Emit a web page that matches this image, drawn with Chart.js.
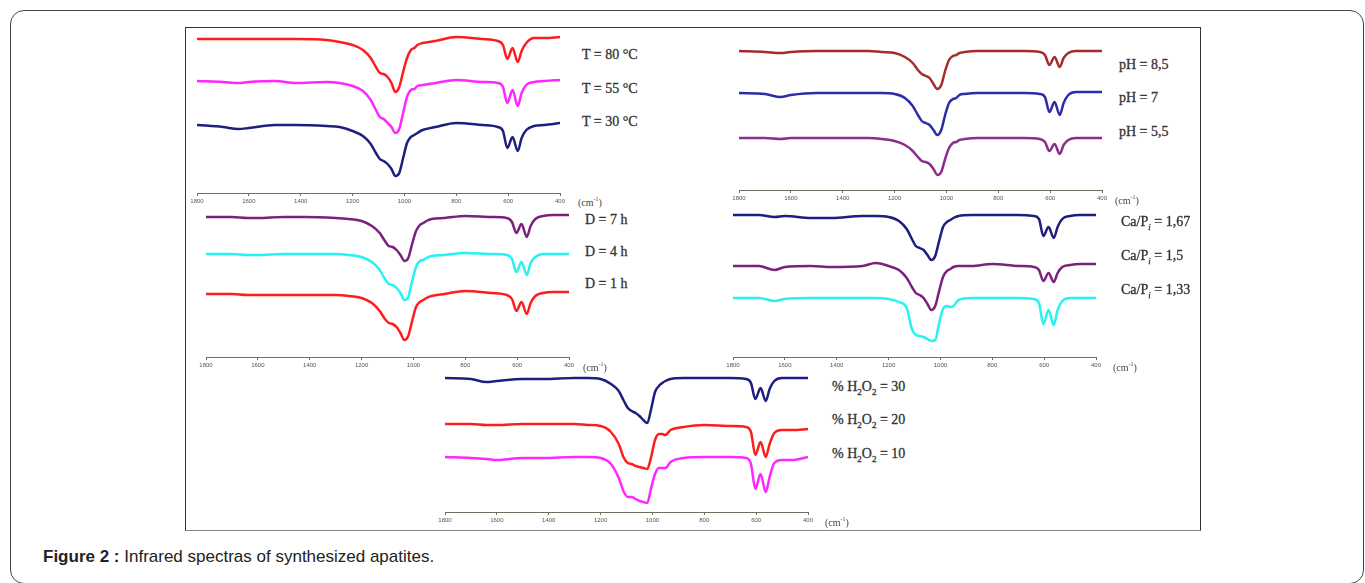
<!DOCTYPE html>
<html>
<head>
<meta charset="utf-8">
<script src="https://cdn.jsdelivr.net/npm/chart.js@4.4.0/dist/chart.umd.min.js"></script>
<style>
    body { margin: 0; width: 1365px; height: 583px; background: #fff; position: relative; overflow: hidden; font-family: 'Liberation Sans', Arial, sans-serif; }
    .frame { position: absolute; left: 10px; top: 10px; width: 1352px; height: 572px; border: 1.5px solid #444; border-radius: 14px; }
    .figbox { position: absolute; left: 185px; top: 27px; width: 1014px; height: 502px; border: 1px solid #333; border-bottom-color: #888; }
    .panel { position: absolute; }
    .lbl { position: absolute; font-family: 'Liberation Serif', 'Times New Roman', serif; font-size: 14px; color: #333; white-space: nowrap; transform: translateY(-50%); -webkit-text-stroke: 0.3px #333; }
    .lbl sub { font-size: 9px; font-style: italic; }
    .unit { position: absolute; font-family: 'Liberation Serif', serif; font-size: 10px; color: #444; white-space: nowrap; transform: translateY(-50%); }
    .caption { position: absolute; left: 43px; top: 547px; font-size: 17px; color: #222; }
</style>
</head>
<body>
<div class="frame"></div>
<div class="figbox"></div>
<div id="figure"></div>
<div class="caption"><b>Figure 2 :</b> Infrared spectras of synthesized apatites.</div>

<script>
// wavenumbers (cm-1) where the spectra were read
const wavenumbers = [1800, 1700, 1640, 1600, 1500, 1420, 1300, 1250, 1200, 1160,
    1130, 1110, 1095, 1080, 1065, 1050, 1035, 1020, 1005, 990,
    975, 962, 950, 930, 880, 800, 700, 640, 620, 603,
    583, 563, 548, 530, 500, 460, 400];
const xTicks = [1800, 1600, 1400, 1200, 1000, 800, 600, 400];

// temperature series (offset transmittance, a.u.)
const t80 = [154, 154, 154, 154, 154, 154, 153, 151, 148, 143, 135, 126, 120, 119, 116, 110, 101, 106, 121, 135, 143, 145, 148, 150, 152, 156, 154, 152, 148, 134, 145, 131, 142, 150, 155, 155, 156];
const t55 = [112, 111, 110, 111, 112, 110, 111, 110, 107, 102, 93, 83, 76, 74, 70, 66, 60, 64, 80, 96, 103, 104, 107, 108, 110, 113, 111, 110, 106, 90, 103, 87, 100, 108, 111, 112, 113];
const t30 = [68, 66, 64, 65, 68, 68, 67, 66, 62, 57, 49, 40, 34, 32, 29, 24, 17, 20, 35, 50, 56, 58, 60, 63, 66, 70, 68, 66, 62, 45, 56, 42, 55, 63, 67, 68, 70];

// pH series
const ph85 = [139, 138, 137, 138, 139, 139, 139, 138, 137, 133, 127, 120, 116, 114, 112, 106, 101, 105, 119, 130, 134, 135, 137, 138, 139, 139, 139, 138, 135, 125, 133, 123, 132, 137, 139, 139, 139];
const ph7 = [97, 96, 93, 95, 97, 97, 97, 97, 96, 92, 84, 75, 69, 67, 65, 60, 55, 60, 75, 87, 91, 92, 95, 96, 97, 97, 97, 96, 93, 78, 88, 75, 87, 95, 98, 98, 98];
const ph55 = [52, 52, 51, 52, 52, 52, 52, 51, 49, 45, 39, 33, 29, 28, 26, 21, 15, 18, 31, 42, 47, 48, 50, 51, 52, 52, 52, 51, 48, 39, 46, 36, 45, 50, 52, 52, 52];

// duration series
const d7 = [140, 140, 139, 139, 140, 140, 139, 138, 136, 131, 124, 116, 111, 110, 107, 102, 96, 99, 113, 126, 132, 134, 136, 138, 139, 141, 140, 139, 135, 124, 133, 120, 131, 138, 141, 142, 142];
const d4 = [103, 103, 102, 102, 103, 103, 103, 102, 100, 95, 87, 78, 73, 72, 69, 64, 57, 60, 76, 90, 96, 97, 99, 101, 102, 104, 103, 102, 98, 85, 95, 82, 94, 100, 103, 103, 103];
const d1 = [63, 63, 62, 62, 62, 62, 62, 61, 59, 54, 46, 38, 34, 33, 30, 24, 17, 21, 36, 50, 55, 57, 59, 61, 63, 66, 64, 62, 58, 46, 55, 43, 54, 61, 64, 65, 65];

// Ca/P series
const ca167 = [142, 142, 140, 141, 139, 139, 141, 141, 140, 136, 128, 118, 111, 109, 107, 102, 97, 101, 116, 130, 135, 137, 139, 141, 142, 142, 142, 141, 138, 121, 130, 119, 130, 138, 141, 142, 142];
const ca15 = [91, 91, 87, 90, 91, 90, 91, 94, 91, 87, 79, 70, 64, 62, 59, 53, 47, 51, 66, 80, 86, 88, 90, 91, 91, 93, 91, 90, 87, 76, 84, 75, 84, 90, 92, 93, 93];
const ca133 = [59, 59, 56, 58, 59, 59, 59, 59, 58, 55, 49, 28, 22, 21, 20, 18, 16, 17, 34, 48, 51, 50, 51, 57, 59, 59, 59, 58, 54, 33, 47, 32, 47, 56, 59, 59, 59];

// H2O2 series
const h30 = [134, 133, 130, 131, 133, 133, 134, 134, 133, 128, 121, 111, 104, 101, 99, 96, 92, 89, 103, 120, 126, 129, 131, 133, 134, 134, 134, 133, 129, 113, 124, 111, 123, 131, 134, 134, 134];
const h20 = [88, 88, 87, 87, 88, 88, 88, 87, 86, 80, 68, 54, 49, 48, 46, 45, 44, 43, 55, 72, 78, 78, 77, 82, 85, 87, 86, 85, 80, 57, 70, 55, 68, 79, 82, 82, 83];
const h10 = [55, 54, 53, 52, 54, 54, 55, 55, 54, 48, 34, 20, 15, 15, 13, 11, 10, 9, 24, 38, 44, 44, 44, 50, 54, 55, 55, 54, 48, 23, 38, 20, 35, 49, 52, 52, 55];

// curve labels
const tempLabels = ['T = 80 °C', 'T = 55 °C', 'T = 30 °C'];
const phLabels = ['pH = 8,5', 'pH = 7', 'pH = 5,5'];
const durLabels = ['D = 7 h', 'D = 4 h', 'D = 1 h'];
const caLabels = ['Ca/P<sub>i</sub> = 1,67', 'Ca/P<sub>i</sub> = 1,5', 'Ca/P<sub>i</sub> = 1,33'];
const h2o2Labels = ['% H<sub style="font-style:normal">2</sub>O<sub style="font-style:normal">2</sub> = 30',
    '% H<sub style="font-style:normal">2</sub>O<sub style="font-style:normal">2</sub> = 20',
    '% H<sub style="font-style:normal">2</sub>O<sub style="font-style:normal">2</sub> = 10'];

// layout of the five panels
const panels = [
    { left: 182, axisY: 193, ymax: 165, series: [t80, t55, t30], colors: ['#ff1c1c', '#ff26ff', '#1e1e7e'],
      labels: tempLabels, labelX: 582, labelY: [55, 89, 122], unitX: 578, unitY: 202 },
    { left: 724, axisY: 190, ymax: 160, series: [ph85, ph7, ph55], colors: ['#a32c2c', '#2c2ca8', '#8c2c8c'],
      labels: phLabels, labelX: 1119, labelY: [65, 98, 132], unitX: 1115, unitY: 200 },
    { left: 191, axisY: 357, ymax: 150, series: [d7, d4, d1], colors: ['#7b217b', '#26f2f2', '#ff1c1c'],
      labels: durLabels, labelX: 585, labelY: [220, 252, 284], unitX: 583, unitY: 367 },
    { left: 718, axisY: 357, ymax: 150, series: [ca167, ca15, ca133], colors: ['#1e1e7e', '#7b217b', '#26f2f2'],
      labels: caLabels, labelX: 1121, labelY: [223, 257, 291], unitX: 1113, unitY: 367 },
    { left: 430, axisY: 512, ymax: 140, series: [h30, h20, h10], colors: ['#1e1e7e', '#ff1c1c', '#ff26ff'],
      labels: h2o2Labels, labelX: 832, labelY: [388, 421, 455], unitX: 825, unitY: 522 }
];

const AXIS_H = 14;
const PAD = 15;
const fig = document.getElementById('figure');

panels.forEach(function (p) {
    const wrap = document.createElement('div');
    wrap.className = 'panel';
    wrap.style.left = p.left + 'px';
    wrap.style.top = (p.axisY - p.ymax) + 'px';
    const canvas = document.createElement('canvas');
    canvas.width = 363 + 2 * PAD;
    canvas.height = p.ymax + AXIS_H;
    wrap.appendChild(canvas);
    fig.appendChild(wrap);

    new Chart(canvas.getContext('2d'), {
        type: 'line',
        data: {
            datasets: p.series.map(function (s, i) {
                return {
                    data: wavenumbers.map(function (w, j) { return { x: w, y: s[j] }; }),
                    borderColor: p.colors[i],
                    borderWidth: 2.5,
                    pointRadius: 0,
                    fill: false,
                    cubicInterpolationMode: 'monotone'
                };
            })
        },
        options: {
            responsive: false,
            animation: false,
            events: [],
            layout: { padding: { left: PAD, right: PAD, top: 0, bottom: 0 } },
            plugins: { legend: { display: false }, tooltip: { enabled: false } },
            scales: {
                x: {
                    type: 'linear',
                    reverse: true,
                    min: 400,
                    max: 1800,
                    afterBuildTicks: function (scale) { scale.ticks = xTicks.map(function (v) { return { value: v }; }); },
                    afterFit: function (scale) { scale.height = AXIS_H; scale.paddingLeft = 0; scale.paddingRight = 0; },
                    border: { color: '#707060', width: 1 },
                    grid: { drawOnChartArea: false, tickLength: 3, color: '#707060' },
                    ticks: {
                        font: { size: 6, family: 'Liberation Sans' }, color: '#555', padding: 2, maxRotation: 0, autoSkip: false,
                        callback: function (v) { return String(v); }
                    }
                },
                y: { display: false, min: 0, max: p.ymax }
            }
        }
    });

    p.labels.forEach(function (txt, i) {
        const d = document.createElement('div');
        d.className = 'lbl';
        d.style.left = p.labelX + 'px';
        d.style.top = p.labelY[i] + 'px';
        d.innerHTML = txt;
        fig.appendChild(d);
    });

    const u = document.createElement('div');
    u.className = 'unit';
    u.style.left = p.unitX + 'px';
    u.style.top = p.unitY + 'px';
    u.innerHTML = '(cm<sup style="font-size:6px">-1</sup>)';
    fig.appendChild(u);
});
</script>
</body>
</html>
